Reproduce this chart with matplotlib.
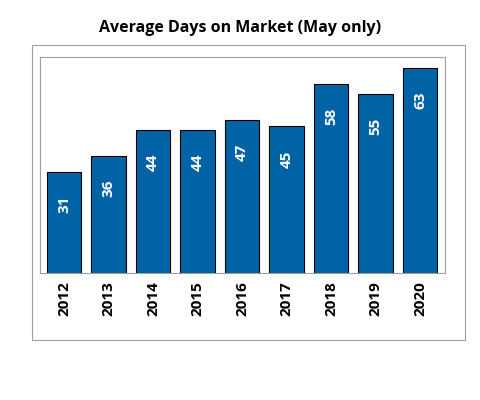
import matplotlib
matplotlib.use("Agg")
import matplotlib.pyplot as plt
from matplotlib.patches import Rectangle

years = ["2012","2013","2014","2015","2016","2017","2018","2019","2020"]
days = [31, 36, 44, 44, 47, 45, 58, 55, 63]

plt.rcParams['font.family'] = ['Open Sans', 'DejaVu Sans']
fig = plt.figure(figsize=(4.81, 4.0), dpi=100)
fig.patches.append(Rectangle((32/481, 1-340/400), 433/481, 295/400, transform=fig.transFigure,
                             fill=False, edgecolor='#a0a0a0', linewidth=0.8))
ax = fig.add_axes([40/481, 1-273/400, 405/481, 216/400])
x = range(len(years))
ax.bar(x, days, width=0.77, color='#0063a6', edgecolor='black', linewidth=0.8)
for i, v in zip(x, days):
    ax.text(i, v - 10, str(v), rotation=90, ha='center', va='center', color='white',
            fontsize=11, fontweight='bold')
ax.set_xlim(-0.54, 8.56)
ax.set_ylim(0, 66.3)
ax.set_yticks([])
ax.set_xticks(list(x))
ax.set_xticklabels(years, rotation=90, fontsize=11, fontweight='bold')
ax.tick_params(axis='x', length=0, pad=6)
for s in ax.spines.values():
    s.set_color('#a0a0a0'); s.set_linewidth(0.8)
fig.text(0.5, 1-28/400, "Average Days on Market (May only)", ha='center', va='center',
         fontsize=11.5, fontweight='bold')
fig.savefig("out.png", dpi=100)
